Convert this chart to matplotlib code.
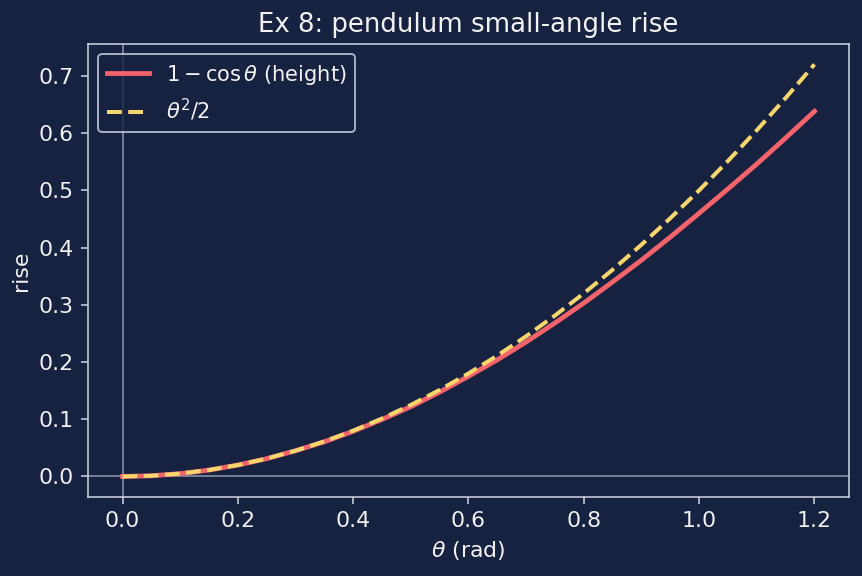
import matplotlib
matplotlib.use("Agg")
import matplotlib.pyplot as plt

# values
theta = [0.0, 0.05, 0.1, 0.15, 0.2, 0.25, 0.3, 0.35, 0.4, 0.45, 0.5, 0.55, 0.6,
         0.65, 0.7, 0.75, 0.8, 0.85, 0.9, 0.95, 1.0, 1.05, 1.1, 1.15, 1.2]
height = [0.0, 0.0012, 0.005, 0.0112, 0.020, 0.0311, 0.045, 0.0606, 0.079, 0.0996,
          0.122, 0.1475, 0.175, 0.2039, 0.235, 0.2683, 0.303, 0.340, 0.378, 0.4183,
          0.460, 0.5025, 0.546, 0.5914, 0.638]
approx = [0.0, 0.0013, 0.005, 0.0113, 0.020, 0.0313, 0.045, 0.0613, 0.080, 0.1013,
          0.125, 0.1513, 0.180, 0.2113, 0.245, 0.2813, 0.320, 0.3613, 0.405, 0.4513,
          0.500, 0.5513, 0.605, 0.6613, 0.720]

bg = "#172140"
fg = "#f2f2f2"
spine = "#c8d0e0"

fig, ax = plt.subplots(figsize=(862 / 144, 4), dpi=144)
fig.patch.set_facecolor(bg)
ax.set_facecolor(bg)
fig.subplots_adjust(left=0.102, right=0.985, bottom=0.137, top=0.924)

ax.axhline(0, color="#8a93a8", lw=0.8, zorder=1)
ax.axvline(0, color="#8a93a8", lw=0.8, zorder=1)

ax.plot(theta, height, color="#f2636b", lw=2.4, label=r"$1-\cos\theta$ (height)")
ax.plot(theta, approx, color="#f5d76e", lw=2.0, ls="--", label=r"$\theta^2/2$")

ax.set_title("Ex 8: pendulum small-angle rise", color=fg, fontsize=13)
ax.set_xlabel(r"$\theta$ (rad)", color=fg, fontsize=11)
ax.set_ylabel("rise", color=fg, fontsize=11)
ax.tick_params(colors=spine, labelcolor=fg, labelsize=11)
for s in ax.spines.values():
    s.set_color(spine)

leg = ax.legend(loc="upper left", facecolor=bg, edgecolor=spine, fontsize=10.5)
for t in leg.get_texts():
    t.set_color(fg)

fig.savefig("out.png", dpi=144, facecolor=bg)
